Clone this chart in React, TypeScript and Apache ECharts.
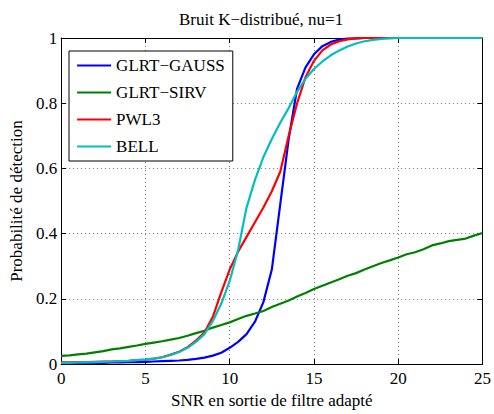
import React, { useEffect, useRef } from "react";
import * as echarts from "echarts";

const snr: number[] = [
  0, 0.5, 1, 1.5, 2, 2.5, 3, 3.5, 4, 4.5, 5, 5.5, 6, 6.5, 7, 7.5, 8, 8.5, 9, 9.5,
  10, 10.5, 11, 11.5, 12, 12.5, 13, 13.5, 14, 14.5, 15, 15.5, 16, 16.5, 17, 17.5,
  18, 18.5, 19, 19.5, 20, 20.5, 21, 21.5, 22, 22.5, 23, 23.5, 24, 24.5, 25,
];

const glrtGauss: number[] = [
  0.003, 0.003, 0.003, 0.004, 0.004, 0.004, 0.005, 0.005, 0.006, 0.006, 0.007,
  0.008, 0.009, 0.01, 0.011, 0.013, 0.016, 0.02, 0.026, 0.035, 0.05, 0.068,
  0.092, 0.13, 0.19, 0.29, 0.49, 0.69, 0.845, 0.91, 0.95, 0.975, 0.988, 0.995,
  0.998, 0.999, 1, 1, 1, 1, 1, 1, 1, 1, 1, 1, 1, 1, 1, 1, 1,
];

const glrtSirv: number[] = [
  0.025, 0.027, 0.03, 0.032, 0.036, 0.04, 0.045, 0.048, 0.053, 0.057, 0.062,
  0.066, 0.07, 0.075, 0.08, 0.087, 0.095, 0.102, 0.112, 0.12, 0.128, 0.138,
  0.148, 0.155, 0.163, 0.175, 0.185, 0.195, 0.207, 0.218, 0.23, 0.24, 0.25,
  0.26, 0.271, 0.279, 0.29, 0.3, 0.31, 0.318, 0.327, 0.337, 0.343, 0.352,
  0.364, 0.37, 0.377, 0.381, 0.385, 0.394, 0.402,
];

const pwl3: number[] = [
  0.005, 0.005, 0.006, 0.006, 0.007, 0.008, 0.008, 0.009, 0.01, 0.012, 0.014,
  0.017, 0.021, 0.029, 0.038, 0.052, 0.072, 0.097, 0.145, 0.22, 0.29, 0.345,
  0.39, 0.435, 0.48, 0.53, 0.59, 0.7, 0.8, 0.88, 0.93, 0.962, 0.98, 0.99,
  0.996, 0.999, 1, 1, 1, 1, 1, 1, 1, 1, 1, 1, 1, 1, 1, 1, 1,
];

const bell: number[] = [
  0.004, 0.004, 0.005, 0.005, 0.006, 0.007, 0.008, 0.009, 0.01, 0.012, 0.014,
  0.017, 0.021, 0.028, 0.037, 0.05, 0.068, 0.092, 0.132, 0.185, 0.255, 0.35,
  0.48, 0.565, 0.635, 0.69, 0.74, 0.785, 0.835, 0.875, 0.905, 0.928, 0.947,
  0.962, 0.974, 0.983, 0.99, 0.994, 0.997, 0.999, 1, 1, 1, 1, 1, 1, 1, 1, 1,
  1, 1,
];

const seriesNames: string[] = ["GLRT−GAUSS", "GLRT−SIRV", "PWL3", "BELL"];
const seriesColors: string[] = ["#0000ff", "#008000", "#ff0000", "#00bfbf"];
const seriesValues: number[][] = [glrtGauss, glrtSirv, pwl3, bell];

const titleText = "Bruit K−distribué, nu=1";
const xName = "SNR en sortie de filtre adapté";
const yName = "Probabilité de détection";

const FONT = "\"Liberation Serif\", \"DejaVu Serif\", serif";

export default function App() {
  const ref = useRef<HTMLDivElement>(null);
  useEffect(() => {
    document.body.style.margin = "0";
    if (!ref.current) return;
    const chart = echarts.init(ref.current, null, { renderer: "svg" });
    const axisCommon = {
      type: "value" as const,
      axisLine: { show: true, onZero: false, lineStyle: { color: "#000", width: 1 } },
      axisTick: { show: true, inside: true, length: 5, lineStyle: { color: "#000", width: 1 } },
    };
    const gridLine = {
      show: true,
      lineStyle: { color: "#555", width: 0.8, type: [1, 3] as number[] },
    };
    const txt = { fontFamily: FONT, fontSize: 17, color: "#000" };
    chart.setOption({
      animation: false,
      backgroundColor: "#fff",
      textStyle: { fontFamily: FONT, color: "#000" },
      title: {
        text: titleText,
        left: 179,
        top: 11,
        padding: 0,
        textStyle: { ...txt, fontWeight: "normal" },
      },
      grid: { left: 59, right: 8, top: 38, bottom: 40 },
      legend: {
        orient: "vertical",
        left: 69,
        top: 51,
        padding: [6, 8, 6, 7],
        itemGap: 10,
        itemWidth: 34,
        itemHeight: 17,
        selectedMode: false,
        borderColor: "#000",
        borderWidth: 1,
        backgroundColor: "#fff",
        itemStyle: { opacity: 0 },
        lineStyle: { width: 2.2 },
        textStyle: txt,
        data: seriesNames,
      },
      xAxis: [
        {
          ...axisCommon,
          position: "bottom",
          min: 0,
          max: 25,
          interval: 5,
          name: xName,
          nameLocation: "middle",
          nameGap: 22,
          nameTextStyle: txt,
          axisLabel: { ...txt, margin: 6 },
          splitLine: gridLine,
        },
        {
          ...axisCommon,
          position: "top",
          min: 0,
          max: 25,
          interval: 5,
          axisLabel: { show: false },
          splitLine: { show: false },
        },
      ],
      yAxis: [
        {
          ...axisCommon,
          position: "left",
          min: 0,
          max: 1,
          interval: 0.2,
          name: yName,
          nameLocation: "middle",
          nameGap: 25,
          nameTextStyle: txt,
          axisLabel: { ...txt, margin: 4 },
          splitLine: gridLine,
        },
        {
          ...axisCommon,
          position: "right",
          min: 0,
          max: 1,
          interval: 0.2,
          axisLabel: { show: false },
          splitLine: { show: false },
        },
      ],
      series: seriesNames.map((name, i) => ({
        name,
        type: "line",
        xAxisIndex: 0,
        yAxisIndex: 0,
        data: snr.map((x, j) => [x, seriesValues[i][j]]),
        showSymbol: false,
        symbol: "none",
        smooth: false,
        clip: true,
        color: seriesColors[i],
        lineStyle: { color: seriesColors[i], width: 2.2 },
      })),
    });
    return () => chart.dispose();
  }, []);
  return (
    <div
      ref={ref}
      style={{ position: "fixed", left: 0, top: 0, width: 494, height: 414 }}
    />
  );
}
